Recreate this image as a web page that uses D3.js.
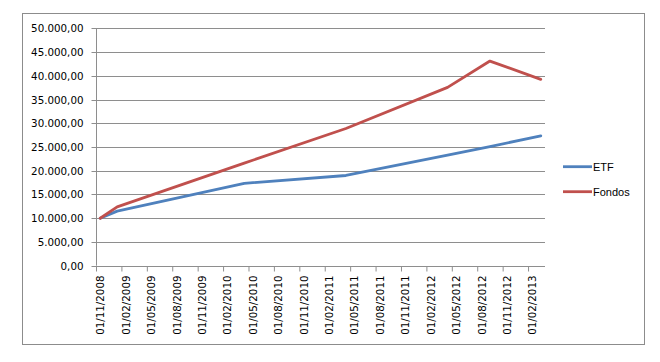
<!DOCTYPE html>
<html><head><meta charset="utf-8">
<script src="https://cdn.jsdelivr.net/npm/d3@7"></script>
<style>body{margin:0;background:#fff}svg{display:block}</style>
</head><body>
<script>
const dates = ["2008-11","2009-01","2010-04","2011-04","2012-04","2012-09","2013-03"];
const etf = [10000, 11500, 17350, 19000, 23300, 25100, 27350];
const fondos = [10000, 12400, 21600, 28900, 37550, 43100, 39250];
const seriesNames = ["ETF","Fondos"];
const tickLabels = ["01/11/2008","01/02/2009","01/05/2009","01/08/2009","01/11/2009","01/02/2010","01/05/2010","01/08/2010","01/11/2010","01/02/2011","01/05/2011","01/08/2011","01/11/2011","01/02/2012","01/05/2012","01/08/2012","01/11/2012","01/02/2013"];
const yTicks = [0,5000,10000,15000,20000,25000,30000,35000,40000,45000,50000];

(function(){
const W=660,H=362;
const svg=d3.select("body").append("svg").attr("width",W).attr("height",H);
svg.append("rect").attr("x",22.5).attr("y",13.5).attr("width",622).attr("height",331)
  .attr("fill","#fff").attr("stroke","#8c8c8c").attr("stroke-width",1);

const pl=96,pr=545,pt=28.3,pb=265.7;
const nMonths=53;
const monthIndex=s=>{const [yy,m]=s.split("-").map(Number);return (yy-2008)*12+m-11;};
const x=d3.scaleLinear().domain([0,nMonths]).range([pl,pr]);
const y=d3.scaleLinear().domain([0,50000]).range([pb,pt]);
const fmt=v=>d3.format(",.2f")(v).replace(/,/g,"#").replace(/\./g,",").replace(/#/g,".");

svg.append("g").selectAll("line").data(yTicks.filter(d=>d>0)).join("line")
  .attr("x1",pl).attr("x2",pr).attr("y1",d=>Math.round(y(d))+0.5).attr("y2",d=>Math.round(y(d))+0.5)
  .attr("stroke","#8e8e8e").attr("stroke-width",1.2);

const ya=svg.append("g").attr("transform",`translate(${pl+0.5},0)`)
  .call(d3.axisLeft(y).tickValues(yTicks).tickSize(5).tickPadding(8).tickFormat(fmt));
ya.select(".domain").attr("stroke","#8e8e8e").attr("d",`M0,${y(50000)}V${y(0)}`);
ya.selectAll(".tick line").attr("stroke","#8e8e8e");
ya.selectAll(".tick text").attr("font-family","DejaVu Sans").attr("font-size","10.3px").attr("fill","#000");
ya.selectAll(".tick").attr("transform",d=>`translate(0,${Math.round(y(d))+0.5})`);

const tickIdx=tickLabels.map((_,i)=>i*3);
const xa=svg.append("g").attr("transform",`translate(0,${Math.round(pb)+0.5})`)
  .call(d3.axisBottom(x).tickValues(tickIdx).tickSize(5).tickFormat((d,i)=>tickLabels[i]));
xa.select(".domain").attr("stroke","#8e8e8e").attr("d",`M${pl},0H${pr}`);
xa.selectAll(".tick line").attr("stroke","#8e8e8e");
const half=(x(1)-x(0))/2;
xa.selectAll(".tick text").attr("font-family","DejaVu Sans").attr("font-size","10.3px").attr("fill","#000")
  .attr("transform",`translate(${half},0) rotate(-90)`).attr("text-anchor","end")
  .attr("x",-9).attr("y",0).attr("dy","0.35em");

const colors=["#4F81BD","#C0504D"];
const line=d3.line().x(d=>x(monthIndex(d[0])+0.5)).y(d=>y(d[1]));
[etf,fondos].forEach((vals,k)=>{
  svg.append("path").datum(dates.map((d,i)=>[d,vals[i]]))
    .attr("d",line).attr("fill","none").attr("stroke",colors[k]).attr("stroke-width",2.8)
    .attr("stroke-linejoin","round").attr("stroke-linecap","round");
});

const lg=svg.append("g");
seriesNames.forEach((n,k)=>{
  const ly=166.7+k*25;
  lg.append("line").attr("x1",563).attr("x2",592).attr("y1",ly).attr("y2",ly)
    .attr("stroke",colors[k]).attr("stroke-width",2.8);
  lg.append("text").attr("x",593).attr("y",ly).attr("dy","0.35em")
    .attr("font-family","Liberation Sans").attr("font-size","11px").attr("fill","#000").text(n);
});
})();
</script>
</body></html>
